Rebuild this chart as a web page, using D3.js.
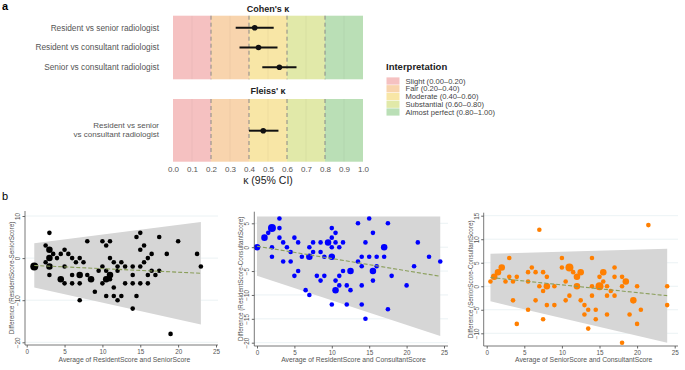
<!DOCTYPE html>
<html>
<head>
<meta charset="utf-8">
<script src="https://cdn.jsdelivr.net/npm/d3@7"></script>
<style>
  body { margin: 0; background: #fff; }
  svg { font-family: "Liberation Sans", Arial, sans-serif; }
</style>
</head>
<body>
<div id="chart"></div>
<script>
// ---- panel a: kappa ----
const cohenLabels = ["Resident vs senior radiologist", "Resident vs consultant radiologist", "Senior vs consultant radiologist"];
const cohenK = [0.43, 0.45, 0.56];
const cohenLo = [0.33, 0.35, 0.47];
const cohenHi = [0.53, 0.55, 0.65];

const fleissLabel = ["Resident vs senior", "vs consultant radiologist"];
const fleissK = [0.475];
const fleissLo = [0.40];
const fleissHi = [0.555];

const bandNames = ["Slight (0.00\u20130.20)", "Fair (0.20\u20130.40)", "Moderate (0.40\u20130.60)", "Substantial (0.60\u20130.80)", "Almost perfect (0.80\u20131.00)"];
const bandStart = [0, 0.2, 0.4, 0.6, 0.8];
const bandColors = ["#f5c1c1", "#f8d4ad", "#f8e6a6", "#e1e9a9", "#badfb6"];

// ---- panel b: Bland-Altman ----
const rsAvg  = [1,3,2.5,2.5,3,3,3,3,3.5,4,4.5,4.5,5,5,5,5.5,6,6,6,6.5,7,7,7,7,7.5,8,8,8.5,9,9.5,10,10,10,10.5,10.5,10.5,10.5,11,11,11,11,11.5,11.5,11.5,12,12,12,12.5,12.5,13,13,14,14,14,14,14.5,14.5,15,15,15,15,15.5,15.5,16,16,16,16.5,16.5,17,17.5,17.5,18.5,19,20,22.5,23];
const rsDiff = [-2,6,3,-1,2,0,-2,-4,1,0,1,-5,2,-2,-6,1,0,-4,-6,-1,0,-4,-6,-10,-1,4,-4,-5,-8,-3,4,-2,-6,3,-3,-5,-9,4,0,-4,-5,-1,-7,-9,-2,-3,-10,-1,-9,-2,-6,-2,-4,-6,-12,5,-9,6,2,-2,-6,3,-1,0,-4,-6,1,-3,-4,5,-3,1,-18,4,1,-2];
const rsN    = [3,1,1,1,2,2,2,1,1,1,1,2,1,1,1,1,1,1,1,1,1,2,1,1,1,1,1,2,1,1,1,1,1,1,1,2,1,1,1,2,1,1,1,1,1,1,1,1,1,1,1,1,1,1,1,1,1,1,1,1,1,1,1,1,1,1,1,1,1,1,1,1,1,1,1,1];
const rsBandX = [1, 23], rsUpper = [3.5, 8.6], rsLower = [-7.0, -15.8], rsMean = [-1.75, -3.6];

const rcAvg  = [0,1,1.5,2,2,2,3,3,3,3.5,3.5,4,4.5,4.5,5,5,5.5,5.5,6,6.5,7,7,7,7.5,7.5,8,8.5,8.5,8.5,9,9,9.5,10,10,10,10,10,10.5,10.5,10.5,10.5,11,11,11,11.5,11.5,12,12,12.5,12.5,13.5,13.5,14,14,14,14,14.5,14.5,15,15,15.5,15.5,15.5,16,16,17,17,17.5,17.5,18,20,21,21.5,23,24.5];
const rcDiff = [0,2,3,4,0,-2,6,4,2,1,-3,0,-1,-3,2,-6,1,-5,-2,-9,0,-2,-10,1,-1,-6,1,-1,-7,-2,-6,1,4,2,0,-2,-12,3,1,-7,-9,0,-6,-8,1,-5,-8,-12,-5,-9,5,-3,-2,-4,-8,-12,1,-15,6,-2,3,-5,-7,-2,-4,0,-2,5,-13,-6,-8,-4,1,-2,-3];
const rcN    = [2,2,1,3,1,1,1,1,1,1,1,1,1,1,1,1,1,1,1,1,1,2,1,1,1,1,1,1,1,1,1,2,1,1,1,2,1,1,1,1,2,1,1,1,1,1,1,1,2,1,1,1,1,1,1,1,1,1,1,1,1,2,1,1,1,2,1,1,1,1,1,1,1,1,1];
const rcBandX = [0, 24.5], rcUpper = [6.4, 6.4], rcLower = [-6.0, -18.6], rcMean = [0.2, -6.1];

const scAvg  = [0.5,1,1.5,2,2.5,3,3,3.5,3.5,4,4,5.5,5.5,5.5,6,6.5,6.5,7,7,7.5,7.5,7.5,8,8,8,9,9,10,10,10.5,10.5,11,11,11.5,12,12,12.5,12.5,13,13,13.5,13.5,14,14,14,14.5,14.5,15,15,15.5,15.5,16,16,16,16.5,17,17,17,18,18,18,18.5,19,19.5,20,20,20.5,21.5,24,24];
const scDiff = [1,2,3,4,1,6,2,1,-3,2,-8,3,1,-5,4,3,-3,12,0,3,-1,-7,2,0,-4,0,-4,6,4,1,-3,4,-2,3,2,0,3,-3,-4,-6,-5,-9,6,0,-2,-5,-7,0,2,3,1,0,-2,-6,-1,4,2,-2,2,0,-12,1,-6,-3,0,-8,-5,13,0,-4];
const scN    = [1,2,2,2,1,1,1,1,1,1,1,1,1,1,1,1,1,1,1,1,1,1,1,2,1,1,1,1,1,1,1,3,1,1,2,2,2,1,1,1,1,1,1,1,1,1,1,3,1,2,1,1,1,1,1,1,1,1,1,1,1,2,1,2,1,1,1,1,1,1];
const scBandX = [0.5, 24], scUpper = [6.9, 8.0], scLower = [-3.2, -12.0], scMean = [1.85, -2.0];

const W = 685, H = 370;
const svg = d3.select("#chart").append("svg").attr("width", W).attr("height", H);

// ===== panel a =====
svg.append("text").attr("x", 2).attr("y", 10).attr("font-size", 11).attr("font-weight", "bold").text("a");

const xK = d3.scaleLinear().domain([0, 1]).range([173, 363]);

function kappaPanel(top, bottom, title, titleY, rowYs, k, lo, hi) {
  const g = svg.append("g");
  svg.append("text").attr("x", 268).attr("y", titleY).attr("text-anchor", "middle")
    .attr("font-size", 9).attr("font-weight", "bold").attr("fill", "#222").text(title);
  bandStart.forEach((b, i) => {
    g.append("rect").attr("x", xK(b)).attr("y", top).attr("width", xK(b + 0.2) - xK(b))
      .attr("height", bottom - top).attr("fill", bandColors[i]);
  });
  // faint minor grid
  d3.range(0.1, 1, 0.2).forEach(v => {
    g.append("line").attr("x1", xK(v)).attr("x2", xK(v)).attr("y1", top).attr("y2", bottom)
      .attr("stroke", "#000").attr("stroke-opacity", 0.04);
  });
  [0.2, 0.4, 0.6, 0.8].forEach(v => {
    g.append("line").attr("x1", xK(v)).attr("x2", xK(v)).attr("y1", top).attr("y2", bottom)
      .attr("stroke", "#888").attr("stroke-width", 1).attr("stroke-dasharray", "4,3");
  });
  k.forEach((v, i) => {
    g.append("line").attr("x1", xK(lo[i])).attr("x2", xK(hi[i])).attr("y1", rowYs[i]).attr("y2", rowYs[i])
      .attr("stroke", "#111").attr("stroke-width", 2);
    g.append("circle").attr("cx", xK(v)).attr("cy", rowYs[i]).attr("r", 2.8).attr("fill", "#111");
  });
  return g;
}

const yCohen = d3.scalePoint().domain(cohenLabels).range([27.7, 67.3]);
kappaPanel(15.7, 79.3, "Cohen's \u03ba", 12, cohenLabels.map(d => yCohen(d)), cohenK, cohenLo, cohenHi);
svg.selectAll(".rowlab").data(cohenLabels).join("text")
  .attr("x", 159).attr("y", d => yCohen(d)).attr("dy", "0.35em").attr("text-anchor", "end")
  .attr("font-size", 8.3).attr("fill", "#555").text(d => d);

kappaPanel(99, 161.7, "Fleiss' \u03ba", 94, [130.7], fleissK, fleissLo, fleissHi);
svg.selectAll(".flab").data(fleissLabel).join("text")
  .attr("x", 159).attr("y", (d, i) => 125.6 + i * 8.8).attr("dy", "0.35em").attr("text-anchor", "end")
  .attr("font-size", 8).attr("fill", "#555").text(d => d);

const kAxis = svg.append("g").attr("transform", "translate(0,161.7)")
  .call(d3.axisBottom(xK).tickValues(d3.range(0, 1.01, 0.1)).tickFormat(d3.format(".1f")).tickSize(0).tickPadding(4.5));
kAxis.select(".domain").remove();
kAxis.selectAll("text").attr("font-size", 8).attr("fill", "#555").attr("font-family", "Liberation Sans, Arial, sans-serif");
svg.append("text").attr("x", 268).attr("y", 184).attr("text-anchor", "middle")
  .attr("font-size", 10.5).attr("fill", "#222").text("\u03ba (95% CI)");

// legend
const leg = svg.append("g");
leg.append("text").attr("x", 386).attr("y", 70).attr("font-size", 9.5).attr("font-weight", "bold")
  .attr("fill", "#222").text("Interpretation");
bandNames.forEach((n, i) => {
  const y = 81 + i * 7.75;
  leg.append("rect").attr("x", 386.5).attr("y", y - 3.6).attr("width", 13).attr("height", 7.2).attr("fill", bandColors[i]);
  leg.append("text").attr("x", 405.5).attr("y", y).attr("dy", "0.35em").attr("font-size", 7.6)
    .attr("fill", "#444").text(n);
});

// ===== panel b =====
svg.append("text").attr("x", 2).attr("y", 200).attr("font-size", 11).text("b");

function blandAltman(cfg) {
  const g = svg.append("g");
  const x = d3.scaleLinear().domain([0, 25]).range(cfg.xr);
  const y = d3.scaleLinear().domain(cfg.yd).range(cfg.yr);
  const { left, right, top, bottom } = cfg.box;

  // horizontal grid
  cfg.yt.forEach(t => {
    g.append("line").attr("x1", left).attr("x2", right).attr("y1", y(t)).attr("y2", y(t))
      .attr("stroke", "#e6eff1").attr("stroke-width", 0.8);
  });

  // agreement band
  const poly = [
    [cfg.bx[0], cfg.up[0]], [cfg.bx[1], cfg.up[1]],
    [cfg.bx[1], cfg.lo[1]], [cfg.bx[0], cfg.lo[0]]
  ];
  g.append("path").attr("d", d3.line().x(d => x(d[0])).y(d => y(d[1]))(poly) + "Z")
    .attr("fill", "#d6d6d6");

  // points
  const r = d3.scaleSqrt().domain([1, 3]).range([2.3, 4]);
  const pts = cfg.avg.map((a, i) => ({ a, d: cfg.diff[i], n: cfg.n[i] }));
  g.selectAll("circle").data(pts).join("circle")
    .attr("cx", p => x(p.a)).attr("cy", p => y(p.d)).attr("r", p => r(p.n))
    .attr("fill", cfg.color);

  // mean line
  g.append("line").attr("x1", x(cfg.bx[0])).attr("x2", x(cfg.bx[1]))
    .attr("y1", y(cfg.mean[0])).attr("y2", y(cfg.mean[1]))
    .attr("stroke", "#8a9e5a").attr("stroke-width", 1.1).attr("stroke-dasharray", "4,2");

  // axes
  const ax = g.append("g").attr("transform", `translate(0,${bottom})`)
    .call(d3.axisBottom(x).tickValues([0, 5, 10, 15, 20, 25]).tickSize(2.5).tickPadding(2).tickSizeOuter(0));
  ax.select(".domain").remove();
  ax.selectAll("text").attr("font-size", 6.3).attr("fill", "#555");
  ax.selectAll("line").attr("stroke", "#666");
  g.append("line").attr("x1", left).attr("x2", right).attr("y1", bottom).attr("y2", bottom)
    .attr("stroke", "#555").attr("stroke-width", 0.8);

  const ay = g.append("g").attr("transform", `translate(${left},0)`)
    .call(d3.axisLeft(y).tickValues(cfg.yt).tickSize(2.5).tickFormat(d3.format("d")).tickSizeOuter(0));
  ay.select(".domain").remove();
  ay.selectAll("line").attr("stroke", "#666");
  ay.selectAll("text").attr("font-size", 6.3).attr("fill", "#555")
    .attr("x", null).attr("dy", null).attr("text-anchor", "middle")
    .attr("transform", "translate(-5,0) rotate(-90)");
  g.append("line").attr("x1", left).attr("x2", left).attr("y1", top).attr("y2", bottom)
    .attr("stroke", "#555").attr("stroke-width", 0.8);

  // titles
  g.append("text").attr("x", (cfg.xr[0] + cfg.xr[1]) / 2 + 3).attr("y", 362).attr("text-anchor", "middle")
    .attr("font-size", 6.8).attr("fill", "#555").text(cfg.xTitle);
  g.append("text").attr("transform", `translate(${cfg.yTitleX},${(top + bottom) / 2}) rotate(-90)`)
    .attr("text-anchor", "middle").attr("dy", "0.35em").attr("font-size", 6.3).attr("fill", "#555").text(cfg.yTitle);
}

blandAltman({
  avg: rsAvg, diff: rsDiff, n: rsN, bx: rsBandX, up: rsUpper, lo: rsLower, mean: rsMean,
  color: "#000",
  xr: [26.7, 216], yd: [-20, 10], yr: [342.3, 216], yt: [-20, -10, 0, 10],
  box: { left: 25, right: 218, top: 211, bottom: 345 },
  yTitleX: 11.7,
  xTitle: "Average of ResidentScore and SeniorScore",
  yTitle: "Difference (ResidentScore-SeniorScore)"
});

blandAltman({
  avg: rcAvg, diff: rcDiff, n: rcN, bx: rcBandX, up: rcUpper, lo: rcLower, mean: rcMean,
  color: "#0000ff",
  xr: [257, 444], yd: [-20, 5], yr: [342.7, 223.3], yt: [-20, -15, -10, -5, 0, 5],
  box: { left: 254.3, right: 448, top: 211.7, bottom: 346 },
  yTitleX: 241,
  xTitle: "Average of ResidentScore and ConsultantScore",
  yTitle: "Difference (ResidentScore-ConsultantScore)"
});

blandAltman({
  avg: scAvg, diff: scDiff, n: scN, bx: scBandX, up: scUpper, lo: scLower, mean: scMean,
  color: "#ff7f00",
  xr: [486.7, 674.7], yd: [-10, 15], yr: [333.3, 215.7], yt: [-10, -5, 0, 5, 10, 15],
  box: { left: 483.7, right: 678, top: 212.7, bottom: 346 },
  yTitleX: 471,
  xTitle: "Average of SeniorScore and ConsultantScore",
  yTitle: "Difference (SeniorScore-ConsultantScore)"
});
</script>
</body>
</html>
